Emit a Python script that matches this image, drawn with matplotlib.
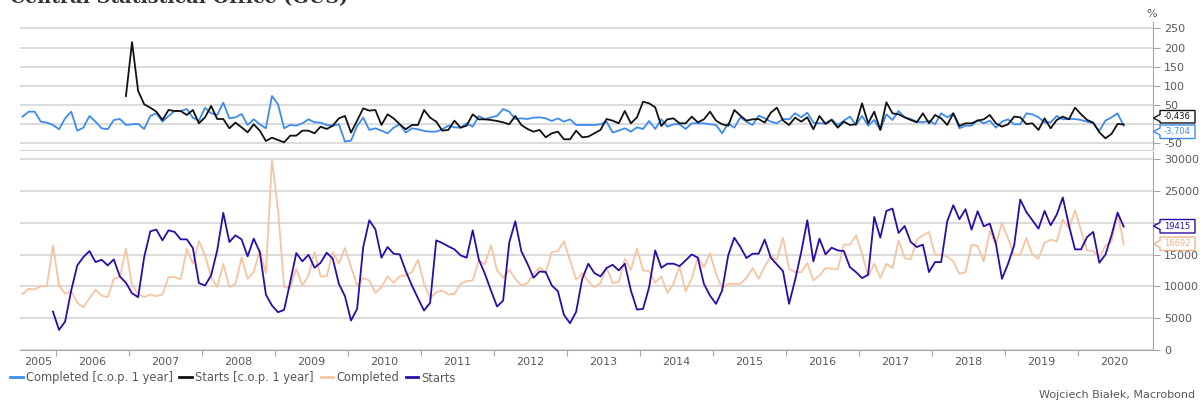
import numpy as np
import matplotlib.pyplot as plt
from matplotlib.patches import Polygon

# monthly data
# Completed, Jul 2005 - Aug 2020
completed = [8840, 9630, 9520, 10050, 10050, 16460,
             10150, 8840, 9260, 7420, 6730, 8150, 9470, 8570, 8310, 11200, 11470, 15940,
             10150, 8840, 8310, 8730, 8470, 8730, 11470, 11470, 11100, 15940, 13570, 17150,
             14890, 11470, 9890, 13570, 9890, 10410, 14520, 11200, 12260, 15670, 12100, 29880,
             21990, 9890, 9780, 12780, 10150, 11730, 15410, 11570, 11620, 15410, 13570, 16040,
             13040, 10150, 11310, 10940, 8990, 9890, 11570, 10570, 11620, 11730, 12260, 14200,
             10410, 8150, 9100, 9360, 8730, 8840, 10410, 10840, 10940, 14100, 13470, 16460,
             12520, 11360, 12620, 11200, 10150, 10520, 11990, 12940, 12260, 15410, 15570, 17100,
             14100, 11050, 12100, 10780, 9890, 10520, 12940, 10520, 10680, 14360, 12620, 15940,
             12520, 12410, 10570, 11570, 8940, 10410, 13150, 9210, 11200, 14620, 13040, 15250,
             11890, 9730, 10410, 10410, 10410, 11360, 12890, 11200, 13150, 14730, 14200, 17670,
             12780, 12260, 12260, 13680, 10940, 11730, 12890, 12780, 12680, 16570, 16570, 18040,
             15150, 11570, 13570, 11360, 13570, 12890, 17250, 14470, 14250, 17360, 18040, 18570,
             14990, 14990, 14730, 13940, 11990, 12260, 16570, 16360, 13940, 18730, 16620, 19990,
             17520, 14990, 14990, 17620, 15040, 14360, 16880, 17360, 17100, 20510, 19090, 21990,
             18830, 15670, 15570, 14520, 16460, 16990, 21620, 16692]

# Starts, Dec 2005 - Aug 2020
starts = [6050,
          3160, 4470, 9360, 13310, 14620, 15570, 13830, 14200, 13310, 14250, 11570, 10570,
          8940, 8310, 14620, 18670, 18940, 17250, 18830, 18570, 17410, 17410, 16040, 10520,
          10150, 11730, 15670, 21570, 16990, 18040, 17410, 14730, 17520, 15410, 8730, 7000,
          5940, 6310, 10680, 15250, 13940, 14990, 12940, 13730, 15310, 14360, 10410, 8470,
          4630, 6470, 16200, 20410, 18990, 14520, 16200, 15150, 15040, 12410, 10150, 8150,
          6210, 7420, 17250, 16830, 16310, 15830, 14890, 14520, 18830, 14250, 11990, 9360,
          6840, 7780, 16880, 20250, 15520, 13570, 11360, 12360, 12260, 10150, 9260, 5520,
          4210, 6000, 11200, 13570, 12100, 11570, 12890, 13410, 12520, 13570, 9360, 6360,
          6470, 9890, 15670, 12940, 13570, 13570, 13200, 14100, 15040, 14520, 10410, 8570,
          7260, 9360, 14890, 17670, 16200, 14470, 15150, 15150, 17360, 14520, 13470, 12410,
          7260, 11050, 15410, 20410, 13940, 17520, 15040, 16100, 15670, 15570, 13040, 12260,
          11310, 11840, 20930, 17670, 21880, 22250, 18410, 19510, 16990, 16200, 16570, 12260,
          13830, 13830, 20250, 22780, 20570, 22150, 18940, 21830, 19460, 19880, 16730, 11200,
          13570, 16460, 23670, 21720, 20410, 19090, 21880, 19620, 21300, 23990, 19620, 15830,
          15830, 17780, 18570, 13730, 14990, 18040, 21620, 19415]

# Completed [c.o.p. 1 year], %, Jul 2005 - Aug 2020
completed_cop = [19.9, 32.9, 32.9, 6.9, 4.3, -1.8,
                 -13, 15.5, 32.9, -16.6, -8.8, 21.6, 6.9, -10.5, -13, 11.2, 13.8, -1.8,
                 0, 0.8, -12.2, 21.6, 28.6, 6.9, 21.6, 34.6, 34.6, 39.8, 17.3, 9.5,
                 43.3, 28.6, 24.2, 56.3, 15.5, 18.1, 26.8, -1.8, 12.9, 0, -10.5, 73.7,
                 52, -10.5, -1.8, -3.6, 2.5, 12.9, 5.1, 4.3, -1.8, -3.6, 0, -45,
                 -42.6, -4.4, 17.3, -14.7, -10.5, -16.6, -23.5, -8.8, 0, -21.7, -10.5, -13,
                 -17.4, -19.2, -19.2, -13, -3.6, -7.9, -8.8, 2.5, -6.2, 21.6, 12.9, 18.1,
                 21.6, 39.8, 32.9, 13.8, 15.5, 13.8, 17.3, 18.1, 15.5, 8.6, 15.5, 6.9,
                 12.9, -1.8, -1.8, -1.8, -1.8, 0, 6.9, -21.7, -16.6, -10.5, -19.2, -7.9,
                 -12.2, 8.6, -12.2, 12.9, -6.2, 0, 0, -12.2, 2.5, 2.5, 2.5, 0,
                 -1.8, -23.5, 2.5, -8.8, 18.1, 6.9, -1.8, 22.5, 15.5, 6.9, 2.5, 13.8,
                 12.9, 28.6, 18.1, 30.3, 4.3, 2.5, 2.5, 12.9, -1.8, 9.5, 19.9, -1.8,
                 21.6, -3.6, 11.2, -14.7, 25.9, 11.2, 34.6, 18.1, 13.8, 6.9, 5.1, 9.5,
                 0, 28.6, 18.1, 28.6, -10.5, -3.6, -3.6, 11.2, 2.5, 9.5, -8.8, 6.9,
                 12.9, 0, 0, 28.6, 25.9, 18.1, 5.1, 5.1, 21.6, 12.9, 13.8, 13.8,
                 11.2, 6.9, 2.5, -17.4, 9.5, 18.1, 28.6, -3.704]

# Starts [c.o.p. 1 year], %, Dec 2006 - Aug 2020
starts_cop = [73.7,
              214, 87, 52, 43.3, 32.9, 11.2, 37.2, 34.6, 34.6, 24.2, 37.2, 2.5,
              18.1, 47.7, 13.8, 13.8, -10.5, 4.3, -7.9, -20.9, 0, -16.6, -43.4, -34.8,
              -40.9, -47, -29.6, -29.6, -16.6, -16.6, -23.5, -6.2, -12.2, -3.6, 15.5, 21.6,
              -21.7, 9.5, 41.6, 35.5, 37.2, -1.8, 25.9, 15.5, 0, -13, -1.8, -1.8,
              37.2, 17.3, 6.9, -16.6, -14.7, 9.5, -8.8, -3.6, 25.9, 12.9, 12.9, 11.2,
              8.6, 5.1, 0, 21.6, -1.8, -12.2, -19.2, -14.7, -33.9, -23.5, -19.2, -39.1,
              -39.1, -16.6, -33.9, -32.2, -23.5, -14.7, 13.8, 9.5, 2.5, 34.6, 2.5, 18.1,
              58.9, 54.6, 44.2, -4.4, 12.9, 15.5, 2.5, 2.5, 19.9, 5.1, 12.9, 32.9,
              9.5, 0, -3.6, 37.2, 22.5, 9.5, 12.9, 13.8, 4.3, 30.3, 43.3, 10,
              -1.8, 17.3, 6.9, 18.1, -13, 21.6, 0.8, 11.2, -8.8, 6.9, -1.8, 0,
              54.6, 2.5, 32.9, -14.7, 57.2, 28.6, 25.9, 18.1, 11.2, 5.1, 28.6, 2.5,
              24.2, 15.5, -1.8, 28.6, -4.4, 2.5, 2.5, 9.5, 12.9, 24.2, 2.5, -6.2,
              0, 19.9, 18.1, 0.8, 2.5, -14.7, 15.5, -10.5, 11.2, 19.9, 12.9, 43.3,
              25.9, 11.2, 4.3, -20.9, -36.5, -25.2, 0.8, -0.436]

years = list(range(2005, 2021))
# the last-value tags cover these two tick labels in the original
pct_ticks = [-50, 0, 50, 100, 150, 200, 250]
pct_labels = ['-50', '', '50', '100', '150', '200', '250']
lvl_ticks = [0, 5000, 10000, 15000, 20000, 25000, 30000]
lvl_labels = ['0', '5000', '10000', '15000', '', '25000', '30000']


def month_axis(year, month, n):
    # mid-month positions as fractional years
    return year + (month - 0.5) / 12 + np.arange(n) / 12


x_comp = month_axis(2005, 7, len(completed))
x_starts = month_axis(2005, 12, len(starts))
x_comp_cop = month_axis(2005, 7, len(completed_cop))
x_starts_cop = month_axis(2006, 12, len(starts_cop))

c_blue = '#3d8bef'
c_black = '#111111'
c_peach = '#f7c4a2'
c_indigo = '#2a0ca8'
c_grid = '#d9d9d9'
c_axis = '#a6a6a6'
c_text = '#595959'
fs = 8

W, H = 1203, 403


def fx(px):
    return px / W


def fy(py):
    return 1 - py / H


fig = plt.figure(figsize=(W / 100, H / 100), dpi=100)
ax1 = fig.add_axes([fx(20), fy(150), fx(1153) - fx(20), fy(22) - fy(150)])
ax2 = fig.add_axes([fx(20), fy(350), fx(1153) - fx(20), fy(152) - fy(350)])

xlo, xhi = 2005.507, 2021.027

ax1.plot(x_comp_cop, completed_cop, color=c_blue, lw=1.3)
ax1.plot(x_starts_cop, starts_cop, color=c_black, lw=1.3)
ax2.plot(x_comp, completed, color=c_peach, lw=1.3)
ax2.plot(x_starts, starts, color=c_indigo, lw=1.3)

ax1.set_ylim(-67, 266.5)
ax1.set_yticks(pct_ticks, pct_labels)
ax2.set_ylim(0, 31150)
ax2.set_yticks(lvl_ticks, lvl_labels)

for ax in (ax1, ax2):
    ax.set_xlim(xlo, xhi)
    ax.yaxis.tick_right()
    ax.tick_params(axis='y', direction='out', length=5, color=c_axis,
                   labelsize=fs, labelcolor=c_text, pad=3)
    ax.grid(axis='y', color=c_grid, lw=1.3)
    ax.set_axisbelow(True)
    ax.spines['left'].set_visible(False)
    ax.spines['top'].set_visible(False)
    ax.spines['right'].set_color(c_axis)

ax1.spines['bottom'].set_color(c_grid)
ax1.tick_params(axis='x', bottom=False, labelbottom=False)
ax2.spines['bottom'].set_color(c_axis)

# year boundaries as ticks, year names centred in between
ax2.set_xticks(years[1:])
ax2.set_xticklabels([])
label_pos = [(max(y, xlo) + min(y + 1, xhi)) / 2 for y in years]
ax2.set_xticks(label_pos, minor=True)
ax2.set_xticklabels([str(y) for y in years], minor=True)
ax2.tick_params(axis='x', which='major', direction='out', length=4, color=c_axis)
ax2.tick_params(axis='x', which='minor', length=0, labelsize=fs,
                labelcolor=c_text, pad=5)


def tag(top, bot, tip, text, color):
    pts = [(1160, top), (1195, top), (1195, bot), (1160, bot),
           (1160, tip + 3.5), (1153.5, tip), (1160, tip - 3.5)]
    poly = Polygon([(fx(a), fy(b)) for a, b in pts], closed=True,
                   transform=fig.transFigure, facecolor='white',
                   edgecolor=color, lw=1)
    fig.add_artist(poly)
    fig.text(fx(1177.5), fy((top + bot) / 2), text, ha='center', va='center',
             fontsize=6, color=color)


tag(110.5, 123, 118, '-0,436', c_black)
tag(125, 138.5, 131.5, '-3,704', c_blue)
tag(219.5, 233, 226, '19415', c_indigo)
tag(237, 250.5, 244, '16692', '#f0b48c')

fig.text(fx(1152), fy(14), '%', ha='center', va='center', fontsize=fs, color=c_text)

fig.text(fx(10), fy(3.5), 'Central Statistical Office (GUS)', fontsize=13.8,
         fontweight='bold', family='DejaVu Serif', va='baseline', color='#333333')

h = [plt.Line2D([], [], color=c, lw=2) for c in (c_blue, c_black, c_peach, c_indigo)]
fig.legend(h, ['Completed [c.o.p. 1 year]', 'Starts [c.o.p. 1 year]', 'Completed', 'Starts'],
           loc='center left', bbox_to_anchor=(fx(10), fy(378)), ncol=4, frameon=False,
           fontsize=8.3, labelcolor=c_text, handlelength=1.1, handletextpad=0.25,
           columnspacing=0.6, borderpad=0, borderaxespad=0)

fig.text(fx(1195), fy(395), 'Wojciech Białek, Macrobond', ha='right', va='center',
         fontsize=fs, color=c_text)

plt.savefig('out.png', dpi=100)
plt.close()
